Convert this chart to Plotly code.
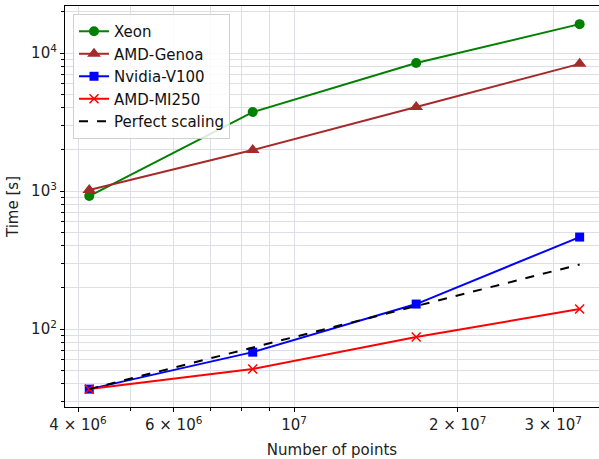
import plotly.graph_objects as go

# Data
n_points = [4194304, 8388608, 16777216, 33554432]
xeon = [920, 3735, 8470, 16200]
amd_genoa = [1017, 1983, 4065, 8350]
nvidia_v100 = [36.7, 68, 151.7, 464]
amd_mi250 = [36.7, 51.3, 87.5, 139.6]
perfect = [36.7, 73.4, 146.8, 293.6]

x_tickvals = [4e6, 6e6, 1e7, 2e7, 3e7]
x_ticktext = ["4 × 10<sup>6</sup>", "6 × 10<sup>6</sup>", "10<sup>7</sup>",
              "2 × 10<sup>7</sup>", "3 × 10<sup>7</sup>"]
x_minorvals = [5e6, 7e6, 8e6, 9e6]
y_tickvals = [100, 1000, 10000]
y_ticktext = ["10<sup>2</sup>", "10<sup>3</sup>", "10<sup>4</sup>"]
y_minorvals = [30, 40, 50, 60, 70, 80, 90, 200, 300, 400, 500, 600, 700, 800, 900,
               2000, 3000, 4000, 5000, 6000, 7000, 8000, 9000, 20000]

FONT = "DejaVu Sans"
GRID = "#dedee9"

fig = go.Figure()
series = [
    ("Xeon", xeon, "green", "circle", 10),
    ("AMD-Genoa", amd_genoa, "brown", "triangle-up", 12),
    ("Nvidia-V100", nvidia_v100, "blue", "square", 9),
    ("AMD-MI250", amd_mi250, "red", "x-thin", 9),
]
for name, ys, col, sym, sz in series:
    fig.add_trace(go.Scatter(
        x=n_points, y=ys, name=name, mode="lines+markers",
        line=dict(color=col, width=2),
        marker=dict(symbol=sym, size=sz, color=col,
                    line=dict(color=col, width=1.5 if sym == "x-thin" else 0)),
    ))
fig.add_trace(go.Scatter(
    x=n_points, y=perfect, name="Perfect scaling", mode="lines",
    line=dict(color="black", width=2, dash="dash"),
))

fig.update_layout(
    width=599, height=459,
    margin=dict(l=65, r=0, t=6, b=52),
    paper_bgcolor="white", plot_bgcolor="white",
    font=dict(family=FONT, size=15, color="#222222"),
    showlegend=True,
    legend=dict(x=0.015, y=0.98, xanchor="left", yanchor="top",
                bgcolor="rgba(255,255,255,0.85)", bordercolor="#d0d0d0", borderwidth=1,
                font=dict(family=FONT, size=15, color="#111111"),
                tracegroupgap=0, itemwidth=30),
    xaxis=dict(type="log", range=[6.578, 7.5614],
               tickmode="array", tickvals=x_tickvals, ticktext=x_ticktext,
               showgrid=True, gridcolor=GRID, gridwidth=1,
               minor=dict(tickvals=x_minorvals, showgrid=True, gridcolor=GRID, gridwidth=1,
                          ticks="outside", ticklen=2.5, tickcolor="black"),
               showline=True, linecolor="black", linewidth=1.2, mirror=True,
               ticks="outside", ticklen=4, tickcolor="black",
               tickfont=dict(family=FONT, size=15),
               zeroline=False,
               title=dict(text="Number of points", standoff=12,
                          font=dict(family=FONT, size=15))),
    yaxis=dict(type="log", range=[1.435, 4.341],
               tickmode="array", tickvals=y_tickvals, ticktext=y_ticktext,
               showgrid=True, gridcolor=GRID, gridwidth=1,
               minor=dict(tickvals=y_minorvals, showgrid=True, gridcolor=GRID, gridwidth=1,
                          ticks="outside", ticklen=2.5, tickcolor="black"),
               showline=True, linecolor="black", linewidth=1.2, mirror=False,
               ticks="outside", ticklen=4, tickcolor="black",
               tickfont=dict(family=FONT, size=15),
               zeroline=False,
               title=dict(text="Time [s]", standoff=8,
                          font=dict(family=FONT, size=15))),
)

fig.write_html("out.html")
